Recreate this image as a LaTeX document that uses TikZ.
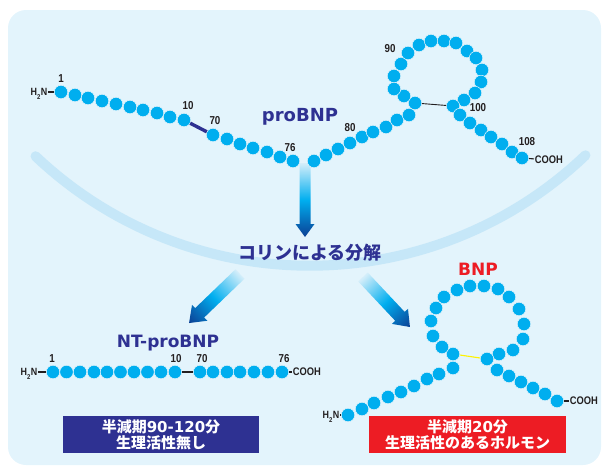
\documentclass[tikz,border=0pt]{standalone}
\usepackage{fontspec}
\newfontfamily\cjk{Noto Sans CJK JP}
\newfontfamily\lat{DejaVu Sans}
\newfontfamily\cond{Liberation Sans}[FakeStretch=0.85]
\definecolor{panelc}{HTML}{E3F4FC}
\definecolor{arcc}{HTML}{C6E7F8}
\definecolor{beadc}{HTML}{00AEEF}
\definecolor{navy}{HTML}{2E3192}
\definecolor{redc}{HTML}{ED1C24}
\definecolor{numc}{HTML}{231F20}
\definecolor{ssbond}{HTML}{FFF200}
\definecolor{flowtop}{HTML}{D4EEFA}
\definecolor{flowmid}{HTML}{00AEEF}
\definecolor{flowbot}{HTML}{0B3F94}
% amino terminus: H, subscript 2, N
\newcommand\amino{H\kern0.2pt\smash{\raisebox{-3.5pt}{\fontsize{7}{7}\selectfont 2}}\kern0.2pt N}
\begin{document}
\begin{tikzpicture}[x=1pt,y=-1pt,
  bead/.style={circle, fill=beadc, draw=panelc, line width=0.5pt, inner sep=0pt, minimum size=13.5pt},
  bond/.style={draw=numc, line width=1.1pt},
  num/.style={inner sep=0pt, text=numc, font=\cond\bfseries\fontsize{11.5}{12}\selectfont},
  endlbl/.style={inner sep=0.6pt, text=numc, font=\cond\bfseries\fontsize{11}{12}\selectfont},
  nterm/.style={inner sep=0.6pt, text=numc, font=\cond\bfseries\fontsize{10.5}{11}\selectfont},
  title/.style={inner sep=0pt, anchor=base, font=\lat\bfseries\fontsize{17}{18}\selectfont},
  infobox/.style={inner sep=0pt, minimum width=196pt, minimum height=37pt, text=white,
    align=center, font=\cjk\bfseries\fontsize{15}{16}\selectfont},
  flowshade/.style={top color=flowtop, bottom color=flowbot, middle color=flowmid}
]
\useasboundingbox (0,0) rectangle (603,466);
\fill[panelc, rounded corners=18pt] (8,10) rectangle (601,465);

% cleavage flow arrows
\shade[flowshade] (299.5,163) -- (310.5,163) -- (310.5,224) -- (314.5,224) -- (305,237)
  -- (295.5,224) -- (299.5,224) -- cycle;
\begin{scope}[transform canvas={shift={(240,274)}, rotate=-46.1}]
  \shade[flowshade] (-6.5,0) -- (6.5,0) -- (6.5,56) -- (11,56) -- (0,70.7) -- (-11,56) -- (-6.5,56) -- cycle;
\end{scope}
\begin{scope}[transform canvas={shift={(363,277)}, rotate=43.2}]
  \shade[flowshade] (-6.5,0) -- (6.5,0) -- (6.5,54) -- (11,54) -- (0,68.6) -- (-11,54) -- (-6.5,54) -- cycle;
\end{scope}

% membrane arc
\draw[arcc, line width=10pt, line cap=round]
  plot[domain=133.5:46.3, samples=60] ({310+398.75*cos(\x)},{-133+398.75*sin(\x)});

% ---- proBNP (1-108) ----
\foreach \x/\y [count=\i] in {61/92,75/95,88/98,102/101,116/104,130/107,143/110,157/113,170/117,184/120}
  \node[bead] (a\i) at (\x,\y) {};
\foreach \x/\y [count=\i] in {213/135,227/139,240/144,253/148,267/152,280/157,293/161,
  314/161,326/155,338/149,350/143,362/137,373/132,386/127,397/120,409/115,415/103,
  404/96,394/89,394/76,401/64,408/53,419/45,431/41,444/41,456/43,467/51,476/58,482/70,481/82,475/93,464/100,453/106,
  460/115,470/123,481/130,491/137,502/144,512/152,522/158}
  \node[bead] (b\i) at (\x,\y) {};
\node[nterm, anchor=east] (ha) at (48,92) {\amino};
\node[endlbl, anchor=west] (ca) at (534,160) {COOH};
\draw[bond] (ha) -- (a1);
\draw[navy, line width=3.4pt] (a10) -- (b1);
\draw[numc, line width=0.9pt] (b17) -- (b33);
\draw[bond] (b40) -- (ca);
\node[num] (l1) at (61,79) {1};
\node[num] (l10) at (188,106) {10};
\node[num] (l70) at (215,121) {70};
\node[num] (l76) at (290,148) {76};
\node[num] (l80) at (350,128) {80};
\node[num] (l90) at (390,49) {90};
\node[num] (l100) at (478,108) {100};
\node[num] (l108) at (527,142) {108};
\node[title, text=navy, font=\lat\bfseries\fontsize{18}{18}\selectfont] (tpro) at (300,121) {proBNP};

% cleavage caption
\node[inner sep=0pt, text=navy, font=\cjk\bfseries\fontsize{18}{18}\selectfont] (tcut) at (310,253) {コリンによる分解};

% ---- NT-proBNP (1-76) ----
\foreach \x [count=\i] in {53,66.5,80,94,107,120.5,134,147.5,161,175}
  \node[bead] (n\i) at (\x,372) {};
\foreach \x [count=\i] in {200,213,227,240,254,268,282}
  \node[bead] (m\i) at (\x,372) {};
\node[nterm, anchor=east] (hn) at (38,372) {\amino};
\node[endlbl, anchor=west] (cn) at (292,372) {COOH};
\draw[bond] (hn) -- (n1);
\draw[bond] (n10) -- (m1);
\draw[bond] (m7) -- (cn);
\node[num] (k1) at (52,359) {1};
\node[num] (k10) at (176,359) {10};
\node[num] (k70) at (202,359) {70};
\node[num] (k76) at (284,359) {76};
\node[title, text=navy] (tnt) at (168,347) {NT-proBNP};

% ---- BNP (77-108) ----
\foreach \x/\y [count=\i] in {348/415,362/409,374/403,388/397,401/392,414/386,427/379,439/374,453/368,
  453/354,442/347,433/336,431/321,436/308,444/297,457/290,470/286,484/286,498/289,509/297,519/309,524/324,523/339,513/350,499/354,
  487/359,497/370,509/376,521/382,533/388,545/394,557/401}
  \node[bead] (r\i) at (\x,\y) {};
\node[nterm, anchor=east] (hr) at (340,415) {\amino};
\node[endlbl, anchor=west] (cr) at (569,401) {COOH};
\draw[bond] (hr) -- (r1);
\draw[ssbond, line width=1.1pt] (r10) -- (r26);
\draw[bond] (r32) -- (cr);
\node[title, text=redc] (tbnp) at (478,275) {BNP};

% ---- half-life boxes ----
\node[infobox, fill=navy] (boxnt) at (161,434.5) {半減期{\lat 90-120}分\\生理活性無し};
\node[infobox, fill=redc, minimum width=197pt] (boxbnp) at (467.5,434.5) {半減期{\lat 20}分\\生理活性のあるホルモン};
\end{tikzpicture}
\end{document}
